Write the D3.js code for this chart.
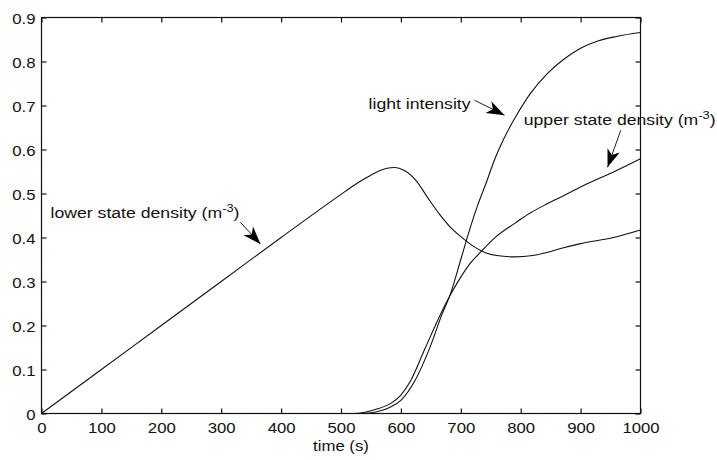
<!DOCTYPE html>
<html>
<head>
<meta charset="utf-8">
<script src="https://cdn.jsdelivr.net/npm/d3@7"></script>
<style>
  body { margin: 0; background: #fff; }
  text { font-family: "Liberation Sans", Arial, sans-serif; fill: #111; }
</style>
</head>
<body>
<svg width="717" height="460"></svg>
<script>
const svg = d3.select("svg"),
    width = +svg.attr("width"),
    height = +svg.attr("height");

// data
const xTicks = [0, 100, 200, 300, 400, 500, 600, 700, 800, 900, 1000];
const yTicks = [0, 0.1, 0.2, 0.3, 0.4, 0.5, 0.6, 0.7, 0.8, 0.9];

const tLower = [0, 100, 200, 300, 400, 500, 520, 540, 560, 575, 590, 605, 625, 645, 665, 685, 700, 720, 740, 760, 790, 820, 844, 870, 900, 955, 1000];
const vLower = [0, 0.1, 0.2, 0.3, 0.4, 0.498, 0.517, 0.534, 0.549, 0.557, 0.559, 0.553, 0.53, 0.49, 0.452, 0.42, 0.402, 0.381, 0.366, 0.359, 0.356, 0.359, 0.366, 0.376, 0.386, 0.40, 0.417];

const tUpper = [0, 520, 540, 560, 583, 600, 616, 641, 666, 682, 700, 715, 733, 760, 790, 815, 839, 870, 900, 955, 1000];
const vUpper = [0, 0, 0.003, 0.01, 0.023, 0.042, 0.074, 0.15, 0.225, 0.268, 0.31, 0.34, 0.367, 0.403, 0.432, 0.455, 0.473, 0.494, 0.515, 0.549, 0.579];

const tLight = [0, 535, 560, 583, 600, 624, 649, 669, 682, 700, 713, 727, 744, 755, 772, 794, 816, 844, 872, 900, 930, 960, 1000];
const vLight = [0, 0, 0.004, 0.015, 0.03, 0.076, 0.152, 0.227, 0.269, 0.35, 0.41, 0.469, 0.53, 0.572, 0.625, 0.68, 0.727, 0.772, 0.805, 0.83, 0.847, 0.857, 0.866];

const labels = ["lower state density (m", "light intensity", "upper state density (m"];

// the picture is stretched a bit, text too
const stretch = "scale(1.24,1.1)";

const x = d3.scaleLinear().domain([0, 1000]).range([41.5, 640.5]);
const y = d3.scaleLinear().domain([0, 0.9]).range([413.5, 17.5]);

// box + inward ticks
svg.append("rect")
    .attr("x", x(0)).attr("y", y(0.9))
    .attr("width", x(1000) - x(0)).attr("height", y(0) - y(0.9))
    .attr("fill", "none").attr("stroke", "#111").attr("stroke-width", 1.2);

const gx = svg.append("g")
    .attr("transform", `translate(0,${y(0)})`)
    .call(d3.axisBottom(x).tickValues(xTicks).tickSize(-5).tickFormat(d3.format("d")));
gx.selectAll(".tick text")
    .attr("y", null).attr("dy", null)
    .attr("transform", "translate(0,19) " + stretch)
    .style("font-size", "13.5px");

const gy = svg.append("g")
    .attr("transform", `translate(${x(0)},0)`)
    .call(d3.axisLeft(y).tickValues(yTicks).tickSize(-5).tickFormat(d => d === 0 ? "0" : d3.format(".1f")(d)));
gy.selectAll(".tick text")
    .attr("x", null).attr("dy", null)
    .attr("transform", "translate(-6,5.5) " + stretch)
    .style("font-size", "13.5px");

svg.append("g")
    .attr("transform", `translate(0,${y(0.9)})`)
    .call(d3.axisTop(x).tickValues(xTicks).tickSize(-5).tickFormat(""));
svg.append("g")
    .attr("transform", `translate(${x(1000)},0)`)
    .call(d3.axisRight(y).tickValues(yTicks).tickSize(-5).tickFormat(""));

svg.selectAll(".domain").remove();
svg.selectAll(".tick line").attr("stroke", "#111").attr("stroke-width", 1.2);

svg.append("text")
    .attr("transform", `translate(${x(500)},451) ` + stretch)
    .attr("text-anchor", "middle")
    .style("font-size", "13.5px")
    .text("time (s)");

// curves
const line = d3.line()
    .x(d => x(d[0]))
    .y(d => y(d[1]))
    .curve(d3.curveMonotoneX);

[[tLower, vLower], [tUpper, vUpper], [tLight, vLight]].forEach(([t, v]) => {
  svg.append("path")
      .datum(d3.zip(t, v))
      .attr("d", line)
      .attr("fill", "none")
      .attr("stroke", "#111")
      .attr("stroke-width", 1.1);
});

// arrows
svg.append("defs").append("marker")
    .attr("id", "head")
    .attr("markerUnits", "userSpaceOnUse")
    .attr("markerWidth", 20).attr("markerHeight", 14)
    .attr("refX", 18).attr("refY", 6.5)
    .attr("orient", "auto")
  .append("path")
    .attr("d", "M0,0 L18,6.5 L0,13 L5,6.5 Z")
    .attr("fill", "#000");

const notes = [
  {text: labels[0], sup: true, at: [15, 0.4437], from: [332, 0.4347], to: [365.6, 0.385]},
  {text: labels[1], sup: false, at: [546, 0.693], from: [723, 0.712], to: [773, 0.678]},
  {text: labels[2], sup: true, at: [805, 0.655], from: [967, 0.6436], to: [945, 0.5596]}
];

notes.forEach(n => {
  const t = svg.append("text")
      .attr("transform", `translate(${x(n.at[0])},${y(n.at[1])}) scale(1.28,1.095)`)
      .style("font-size", "13.8px");
  t.append("tspan").text(n.text);
  if (n.sup) {
    t.append("tspan").attr("dy", -6).style("font-size", "10px").text("-3");
    t.append("tspan").attr("dy", 6).text(")");
  }
  svg.append("line")
      .attr("x1", x(n.from[0])).attr("y1", y(n.from[1]))
      .attr("x2", x(n.to[0])).attr("y2", y(n.to[1]))
      .attr("stroke", "#222").attr("stroke-width", 1)
      .attr("marker-end", "url(#head)");
});
</script>
</body>
</html>
